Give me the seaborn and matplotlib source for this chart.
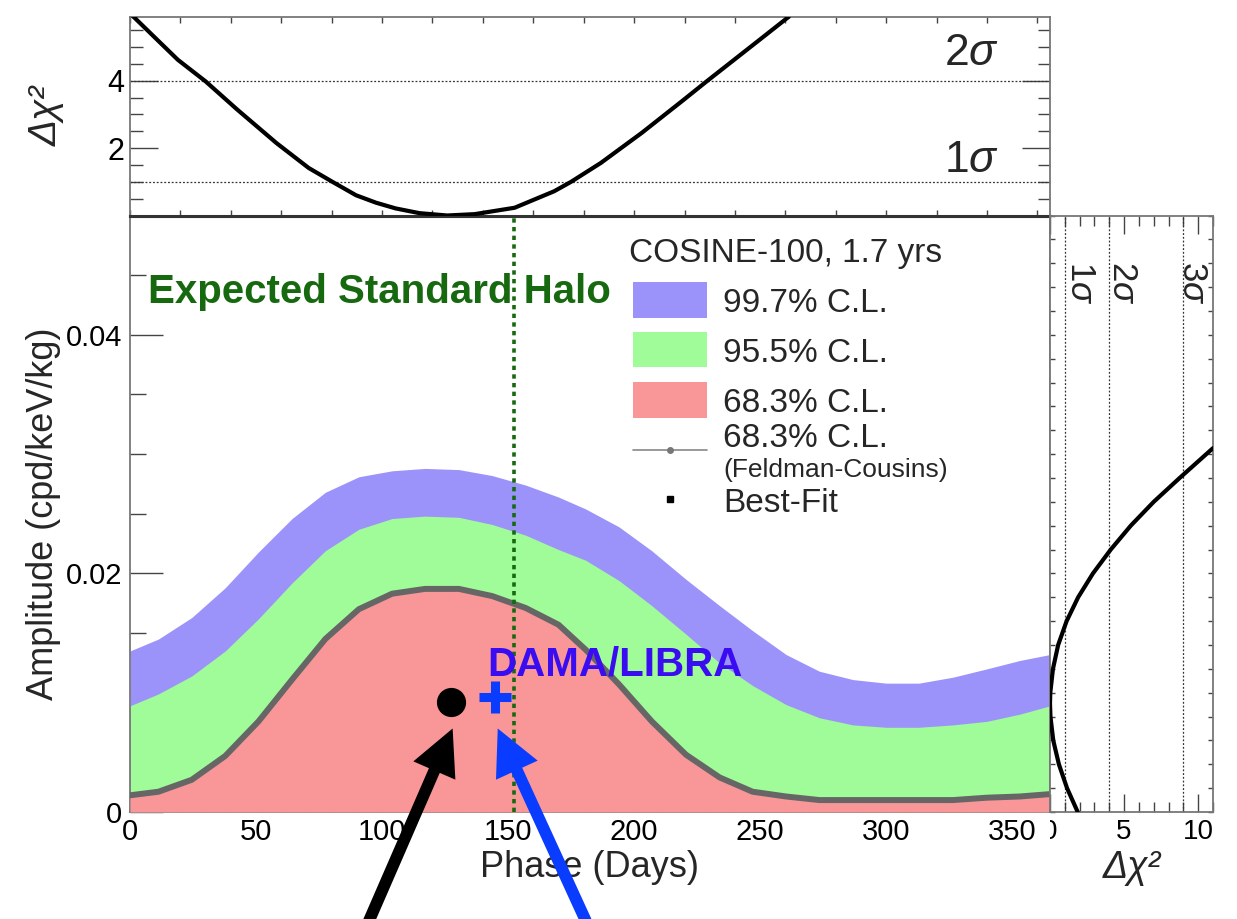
import numpy as np
import pandas as pd
import matplotlib
matplotlib.use("Agg")
import matplotlib.pyplot as plt
import seaborn as sns
from matplotlib.patches import Rectangle
from matplotlib.ticker import MultipleLocator, FixedLocator, FuncFormatter, NullFormatter
from matplotlib.transforms import Bbox, TransformedBbox

# ---------------------------------------------------------------- data
# Phase grid (days) on which the upper edges of the confidence regions are tabulated
band_phase = [0, 11.3, 24.5, 37.8, 51, 64.3, 77.5, 90.8, 104, 117, 130.5, 143.7,
              157, 170, 180.8, 194, 207, 220.6, 233.9, 247, 260.3, 273.5, 286.8,
              300, 313, 326.5, 340, 353, 365]
# Upper amplitude edge (cpd/keV/kg) of each region; all regions start at zero
cl997_upper = [0.0135, 0.0145, 0.0163, 0.0188, 0.0218, 0.0246, 0.0268, 0.0281,
               0.0286, 0.0288, 0.0287, 0.0282, 0.0274, 0.0264, 0.0254, 0.0239,
               0.0219, 0.0195, 0.0173, 0.0152, 0.0132, 0.0118, 0.0111, 0.0108,
               0.0108, 0.0113, 0.0120, 0.0127, 0.0132]
cl955_upper = [0.0089, 0.0099, 0.0114, 0.0135, 0.0162, 0.0192, 0.0219, 0.0237,
               0.0246, 0.0248, 0.0247, 0.0241, 0.0232, 0.0220, 0.0211, 0.0194,
               0.0173, 0.0149, 0.0125, 0.0106, 0.0090, 0.0079, 0.0073, 0.0071,
               0.0071, 0.0073, 0.0076, 0.0082, 0.0089]
cl683_fc_upper = [0.0014, 0.0017, 0.0027, 0.0047, 0.0076, 0.0111, 0.0145, 0.0170,
                  0.0183, 0.0187, 0.0187, 0.0181, 0.0171, 0.0157, 0.0136, 0.0107,
                  0.0076, 0.0048, 0.0029, 0.0017, 0.0013, 0.0010, 0.0010, 0.0010,
                  0.0010, 0.0010, 0.0012, 0.0013, 0.0015]

# Delta chi^2 profile versus phase
profile_phase = [0, 11, 19, 30, 42.6, 58.1, 70.9, 80.3, 89.7, 97.6, 105.4, 114.8,
                 125.8, 136.7, 152.6, 168.3, 175, 186.8, 203, 219.1, 229.1, 251.4, 261.4]
profile_phase_dchi2 = [6.0, 5.2, 4.62, 3.98, 3.14, 2.15, 1.41, 1.0, 0.60, 0.38, 0.21,
                       0.07, 0.0, 0.04, 0.23, 0.72, 1.0, 1.56, 2.45, 3.40, 4.0, 5.31, 5.9]

# Delta chi^2 profile versus amplitude
profile_amp = [0.0, 0.002, 0.004, 0.006, 0.008, 0.0091, 0.010, 0.012, 0.014, 0.016,
               0.018, 0.020, 0.022, 0.024, 0.026, 0.028, 0.0305]
profile_amp_dchi2 = [1.87, 1.15, 0.60, 0.22, 0.03, 0.0, 0.02, 0.20, 0.55, 1.12,
                     1.90, 2.90, 4.10, 5.45, 7.0, 8.75, 11.0]

best_fit = (127.2, 0.0092)      # COSINE-100 best fit (phase, amplitude)
dama = (145.0, 0.0096)          # DAMA/LIBRA (phase, amplitude)
halo_phase = 152.5              # expected standard halo phase (June 2)
sigma_levels = [1, 4, 9]
sigma_names = ["1", "2", "3"]

main_xticks = [0, 50, 100, 150, 200, 250, 300, 350]
main_yticks = [0, 0.02, 0.04]

# ---------------------------------------------------------------- style
sns.set_theme(style="ticks")
plt.rcParams["font.family"] = ["Liberation Sans", "DejaVu Sans"]
plt.rcParams["mathtext.fontset"] = "custom"
plt.rcParams["mathtext.rm"] = "Liberation Sans"
plt.rcParams["mathtext.it"] = "Liberation Sans:italic"
plt.rcParams["mathtext.bf"] = "Liberation Sans:bold"

c_blue = "#9c93fa"
c_green = "#a0fc98"
c_pink = "#f99697"
c_fc = "#666666"
c_halo = "#16690f"
c_dama_txt = "#3a0cf2"
c_dama = "#0a3cff"

W, H = 1237, 919
fig = plt.figure(figsize=(W / 100, H / 100), dpi=100)

x0, x1 = 130, 1050
y_top, y_mid, y_bot = 16.7, 215.5, 812
ax = fig.add_axes([x0 / W, 1 - y_bot / H, (x1 - x0) / W, (y_bot - y_mid) / H])
ax_t = fig.add_axes([x0 / W, 1 - y_mid / H, (x1 - x0) / W, (y_mid - y_top) / H])
ax_r = fig.add_axes([x1 / W, 1 - y_bot / H, 163 / W, (y_bot - y_mid) / H])

for a in (ax, ax_t, ax_r):
    a.set_facecolor("white")
    for s in a.spines.values():
        s.set_color("#777777")
        s.set_linewidth(1.3)
        s.set_visible(True)

# ---------------------------------------------------------------- main panel
bands = pd.DataFrame({"phase": band_phase, "cl997": cl997_upper,
                      "cl955": cl955_upper, "cl683": cl683_fc_upper})
ax.fill_between(bands["phase"], 0, bands["cl997"], color=c_blue, lw=0, zorder=1)
ax.fill_between(bands["phase"], 0, bands["cl955"], color=c_green, lw=0, zorder=2)
ax.fill_between(bands["phase"], 0, bands["cl683"], color=c_pink, lw=0, zorder=3)
sns.lineplot(data=bands, x="phase", y="cl683", ax=ax, color=c_fc, lw=4.3,
             sort=False, estimator=None, zorder=4)

ax.axvline(halo_phase, ymin=0, ymax=1, color=c_halo, lw=2.6,
           ls=(0, (1.2, 1.2)), zorder=6)

ax.plot([best_fit[0]], [best_fit[1]], "o", color="black", ms=20, zorder=8)
ax.plot([dama[0]], [dama[1]], "+", color=c_dama, ms=23, mew=6.5, zorder=8)

ax.text(0.0196, 0.8526, "Expected Standard Halo", transform=ax.transAxes,
        fontsize=29, fontweight="bold", color=c_halo, va="baseline", zorder=5)
ax.text(0.388, 0.2295, "DAMA/LIBRA", transform=ax.transAxes, fontsize=29,
        fontweight="bold", color=c_dama_txt, va="baseline", zorder=9)

# arrows pointing at the two markers from below the frame
arrow_kw = dict(arrowstyle="simple,head_length=33,head_width=33,tail_width=8.5",
                mutation_scale=1, shrinkA=0, shrinkB=0, lw=0)
ax.annotate("", xy=(best_fit[0] + 0.8, best_fit[1] - 0.0022),
            xytext=(365, -11), textcoords="figure pixels",
            arrowprops=dict(color="black", **arrow_kw), annotation_clip=False, zorder=10)
ax.annotate("", xy=(dama[0] + 0.9, dama[1] - 0.0026),
            xytext=(590, -11), textcoords="figure pixels",
            arrowprops=dict(color=c_dama, **arrow_kw), annotation_clip=False, zorder=10)

ax.set_xlim(0, 365)
ax.set_ylim(0, 0.05)
ax.xaxis.set_major_locator(FixedLocator(main_xticks))
ax.xaxis.set_minor_locator(MultipleLocator(10))
ax.yaxis.set_major_locator(FixedLocator(main_yticks))
ax.yaxis.set_minor_locator(MultipleLocator(0.005))
ax.yaxis.set_major_formatter(FuncFormatter(lambda v, _: "0" if v == 0 else f"{v:.2f}"))
ax.tick_params(axis="x", which="both", direction="in", bottom=True, top=False,
               colors="#444444", labelcolor="black", labelsize=21, pad=4, width=1)
ax.tick_params(axis="x", which="major", length=15)
ax.tick_params(axis="x", which="minor", length=8)
ax.tick_params(axis="y", which="both", direction="in", left=True, right=False,
               colors="#444444", labelcolor="black", labelsize=21, pad=5.5, width=1)
ax.tick_params(axis="y", which="major", length=23.5)
ax.tick_params(axis="y", which="minor", length=11.5)
ax.spines["top"].set_color("#333333")
ax.spines["top"].set_linewidth(2.2)
ax.set_xlabel("Phase (Days)", fontsize=26)
ax.set_ylabel("Amplitude (cpd/keV/kg)", fontsize=26)
ax.xaxis.set_label_coords(0.5, -0.064)
ax.yaxis.set_label_coords(-0.075, 0.5)

# legend block
lx0, lx1 = (633 - x0) / (x1 - x0), (707 - x0) / (x1 - x0)
def fy(py):
    return (y_bot - py) / (y_bot - y_mid)
ax.text((629 - x0) / (x1 - x0), fy(262), "COSINE-100, 1.7 yrs", transform=ax.transAxes,
        fontsize=24, va="baseline", zorder=11)
swatches = [(c_blue, 282, 318, "99.7% C.L.", 312),
            (c_green, 332, 367, "95.5% C.L.", 362),
            (c_pink, 382, 418, "68.3% C.L.", 412)]
tx = (723 - x0) / (x1 - x0)
for col, ptop, pbot, lab, base in swatches:
    ax.add_patch(Rectangle((lx0, fy(pbot)), lx1 - lx0, fy(ptop) - fy(pbot),
                           transform=ax.transAxes, color=col, lw=0, zorder=11))
    ax.text(tx, fy(base), lab, transform=ax.transAxes, fontsize=24,
            va="baseline", zorder=11)
ax.plot([lx0, lx1], [fy(450), fy(450)], color="#888888", lw=1.2,
        transform=ax.transAxes, zorder=11)
ax.plot([(lx0 + lx1) / 2], [fy(450)], "o", color="#777777", ms=4,
        transform=ax.transAxes, zorder=11)
ax.text(tx, fy(447), "68.3% C.L.", transform=ax.transAxes, fontsize=24,
        va="baseline", zorder=11)
ax.text(tx, fy(477), "(Feldman-Cousins)", transform=ax.transAxes, fontsize=19,
        va="baseline", zorder=11)
ax.plot([(lx0 + lx1) / 2], [fy(499)], "s", color="black", ms=4.5,
        transform=ax.transAxes, zorder=11)
ax.text(tx, fy(512), "Best-Fit", transform=ax.transAxes, fontsize=24,
        va="baseline", zorder=11)

# ---------------------------------------------------------------- top panel
prof_p = pd.DataFrame({"phase": profile_phase, "dchi2": profile_phase_dchi2})
for lvl in sigma_levels[:2]:
    ax_t.axhline(lvl, color="#333333", lw=0.9, ls=(0, (1.5, 1.5)), zorder=1)
sns.lineplot(data=prof_p, x="phase", y="dchi2", ax=ax_t, color="black", lw=3,
             sort=False, estimator=None, zorder=3)
ax_t.set_xlim(0, 365)
ax_t.set_ylim(0, 5.9)
ax_t.xaxis.set_major_locator(MultipleLocator(100))
ax_t.xaxis.set_minor_locator(MultipleLocator(20))
ax_t.xaxis.set_major_formatter(NullFormatter())
ax_t.yaxis.set_major_locator(FixedLocator([2, 4]))
ax_t.yaxis.set_minor_locator(MultipleLocator(0.5))
ax_t.tick_params(axis="x", which="both", direction="in", top=True, bottom=True,
                 length=4.5, width=1, colors="#444444")
ax_t.tick_params(axis="y", which="both", direction="in", left=True, right=True,
                 colors="#444444", labelcolor="black", labelsize=22, pad=4, width=1)
ax_t.tick_params(axis="y", which="major", length=20)
ax_t.tick_params(axis="y", which="minor", length=9)
ax_t.spines["bottom"].set_color("#333333")
ax_t.spines["bottom"].set_linewidth(2.2)
ax_t.set_xlabel("")
ax_t.set_ylabel("Δχ²", fontsize=28, fontstyle="italic")
ax_t.yaxis.set_label_coords(-0.071, 0.5)
for lvl, name, y in [(4, "2", 4.48), (1, "1", 1.3)]:
    ax_t.text(344.6, y, rf"${name}\sigma$", fontsize=32, ha="right", va="baseline")

# ---------------------------------------------------------------- right panel
prof_a = pd.DataFrame({"amp": profile_amp, "dchi2": profile_amp_dchi2})
for lvl in sigma_levels:
    ax_r.axvline(lvl, color="#333333", lw=0.9, ls=(0, (1.5, 1.5)), zorder=1)
sns.lineplot(data=prof_a, x="dchi2", y="amp", ax=ax_r, color="black", lw=3,
             sort=False, estimator=None, zorder=3)
for lvl, name, xpos in zip(sigma_levels, sigma_names, [1.45, 4.27, 9.0]):
    ax_r.text(xpos, 0.0462, rf"${name}\sigma$", fontsize=25, rotation=270,
              rotation_mode="anchor", ha="left", va="baseline")
ax_r.set_xlim(0, 11)
ax_r.set_ylim(0, 0.05)
ax_r.xaxis.set_major_locator(FixedLocator([0, 5, 10]))
ax_r.xaxis.set_minor_locator(MultipleLocator(1))
ax_r.yaxis.set_major_locator(MultipleLocator(0.01))
ax_r.yaxis.set_minor_locator(MultipleLocator(0.002))
ax_r.yaxis.set_major_formatter(NullFormatter())
ax_r.tick_params(axis="x", which="both", direction="in", top=True, bottom=True,
                 colors="#444444", labelcolor="black", labelsize=20, pad=5, width=1)
ax_r.tick_params(axis="x", which="major", length=13)
ax_r.tick_params(axis="x", which="minor", length=7.5)
ax_r.tick_params(axis="y", which="both", direction="in", left=True, right=True,
                 length=3.8, width=1, colors="#444444")
ax_r.set_xlabel("Δχ²", fontsize=27, fontstyle="italic")
ax_r.set_ylabel("")
ax_r.xaxis.set_label_coords(0.5, -0.064)
clip = TransformedBbox(Bbox([[0, -0.5], [1.2, 1.0]]), ax_r.transAxes)
for t in ax_r.xaxis.get_major_ticks():
    t.label1.set_clip_box(clip)
    t.label1.set_clip_on(True)

fig.savefig("out.png", dpi=100, facecolor="white")
